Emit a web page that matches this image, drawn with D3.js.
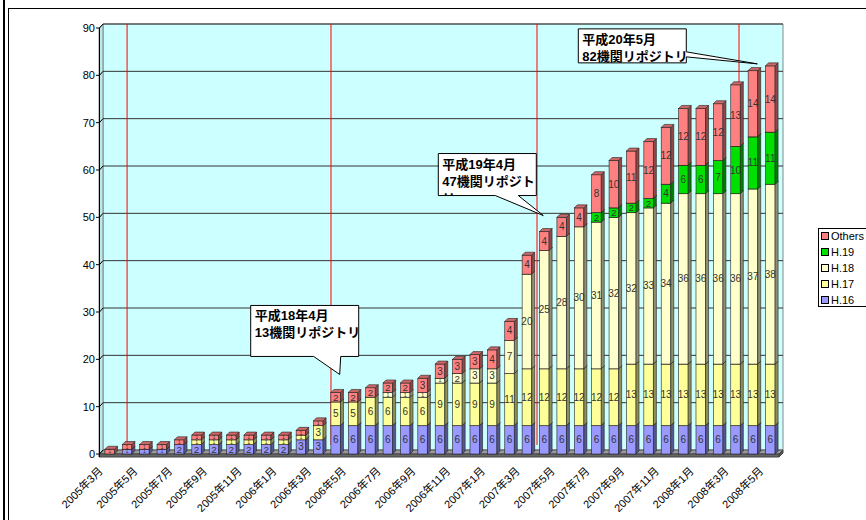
<!DOCTYPE html>
<html>
<head>
<meta charset="utf-8">
<script src="https://cdn.jsdelivr.net/npm/d3@7"></script>
<style>
  body { margin: 0; background: #fff; }
  text { font-family: "Liberation Sans", "Noto Sans CJK JP", sans-serif; }
</style>
</head>
<body>
<div id="chart"></div>
<script>
// 月ラベル
const months = [
  "2005年3月", "2005年4月", "2005年5月", "2005年6月", "2005年7月", "2005年8月",
  "2005年9月", "2005年10月", "2005年11月", "2005年12月",
  "2006年1月", "2006年2月", "2006年3月", "2006年4月", "2006年5月", "2006年6月",
  "2006年7月", "2006年8月", "2006年9月", "2006年10月", "2006年11月", "2006年12月",
  "2007年1月", "2007年2月", "2007年3月", "2007年4月", "2007年5月", "2007年6月",
  "2007年7月", "2007年8月", "2007年9月", "2007年10月", "2007年11月", "2007年12月",
  "2008年1月", "2008年2月", "2008年3月", "2008年4月", "2008年5月"
];

// 系列の値
const h16 = [0,1,1,1,2,2,2,2,2,2, 2,3,3,6,6,6,6,6,6,6,6,6, 6,6,6,6,6,6,6,6,6,6,6,6, 6,6,6,6,6];
const h17 = [0,0,0,0,0,1,1,1,1,1, 1,1,3,5,5,6,6,6,6,9,9,9, 9,11,12,12,12,12,12,12,13,13,13,13, 13,13,13,13,13];
const h18 = [0,0,0,0,0,0,0,0,0,0, 0,0,0,0,0,0,1,1,1,1,2,3, 3,7,20,25,28,30,31,32,32,33,34,36, 36,36,36,37,38];
const h19 = [0,0,0,0,0,0,0,0,0,0, 0,0,0,0,0,0,0,0,0,0,0,0, 0,0,0,0,0,0,2,2,2,2,4,6, 6,7,10,11,11];
const others = [1,1,1,1,1,1,1,1,1,1, 1,1,1,2,2,2,2,2,3,3,3,3, 4,4,4,4,4,4,8,10,11,12,12,12, 12,12,13,14,14];

const seriesNames = ["H.16", "H.17", "H.18", "H.19", "Others"];
const seriesColors = ["#9999ff", "#ffff99", "#ffffcc", "#00e000", "#ff8080"];
const yTicks = [0, 10, 20, 30, 40, 50, 60, 70, 80, 90];

// 年度区切りの赤線（月インデックス）
const fyMarks = [1.0, 12.73, 24.58, 36.2];

// 吹き出し
const callouts = [
  { month: "2006年4月", lines: ["平成18年4月", "13機関リポジトリ"] },
  { month: "2007年4月", lines: ["平成19年4月", "47機関リポジト", "リ"] },
  { month: "2008年5月", lines: ["平成20年5月", "82機関リポジトリ"] }
];

const table = months.map((m, i) => ({
  month: m, "H.16": h16[i], "H.17": h17[i], "H.18": h18[i], "H.19": h19[i], "Others": others[i]
}));
const stacked = d3.stack().keys(seriesNames)(table);
const colorOf = d3.scaleOrdinal().domain(seriesNames).range(seriesColors);

const width = 866, height = 520;
const D = 4;   // 壁の奥行き
const d = 3;   // 棒の奥行き
const wallL = 103, wallR = 783;

const svg = d3.select("#chart").append("svg")
  .attr("width", width).attr("height", height);

// 外枠
svg.append("rect").attr("x", 8.5).attr("y", 8.5).attr("width", 870).attr("height", 530)
  .attr("fill", "#fff").attr("stroke", "#000");
svg.append("line").attr("x1", 4).attr("x2", 4).attr("y1", 0).attr("y2", height)
  .attr("stroke", "#000").attr("stroke-width", 2);

const x = d3.scaleBand().domain(months).range([101, 779]).paddingInner(0.45).paddingOuter(0.225);
const y = d3.scaleLinear().domain([0, 90]).range([454, 28]);
const xc = m => x(m) + x.bandwidth() / 2;
const xi = d3.scaleLinear().domain([0, months.length - 1]).range([xc(months[0]), xc(months[months.length - 1])]);

// 背面の壁
svg.append("polygon")
  .attr("points", [[wallL, y(90) - D], [wallR, y(90) - D], [wallR, y(0) - D], [wallL, y(0) - D]].join(" "))
  .attr("fill", "#ccffff").attr("stroke", "#888");
svg.append("polygon")
  .attr("points", [[99, y(90)], [wallL, y(90) - D], [wallL, y(0) - D], [99, y(0)]].join(" "))
  .attr("fill", "#b8e8e8").attr("stroke", "#888");

// 目盛り線
yTicks.slice(1).forEach(v => {
  svg.append("line").attr("x1", wallL).attr("x2", wallR)
    .attr("y1", y(v) - D).attr("y2", y(v) - D)
    .attr("stroke", "#333").attr("stroke-width", 1);
});

// 赤線
fyMarks.forEach(v => {
  svg.append("line").attr("x1", xi(v)).attr("x2", xi(v))
    .attr("y1", y(90) - D).attr("y2", y(0) - 9)
    .attr("stroke", "#ff0000").attr("stroke-width", 1);
});

// 床
svg.append("polygon")
  .attr("points", [[99, y(0)], [wallL, y(0) - D], [wallR, y(0) - D], [wallR - 4, y(0)]].join(" "))
  .attr("fill", "#999").attr("stroke", "#555");
svg.append("polygon")
  .attr("points", [[99, y(0)], [wallR - 4, y(0)], [wallR - 4, y(0) + 3], [99, y(0) + 3]].join(" "))
  .attr("fill", "#666").attr("stroke", "#444");
svg.append("polygon")
  .attr("points", [[wallR - 4, y(0)], [wallR, y(0) - D], [wallR, y(0) - D + 3], [wallR - 4, y(0) + 3]].join(" "))
  .attr("fill", "#555").attr("stroke", "#444");

// Y軸
svg.append("line").attr("x1", 99.5).attr("x2", 99.5).attr("y1", y(90)).attr("y2", y(0) + 3)
  .attr("stroke", "#000");
yTicks.forEach(v => {
  svg.append("path")
    .attr("d", `M96,${y(v)}H99.5L${wallL},${y(v) - D}`)
    .attr("fill", "none").attr("stroke", "#000");
  svg.append("text").attr("x", 95).attr("y", y(v)).attr("dy", "0.35em")
    .attr("text-anchor", "end").attr("font-size", "11px").text(v);
});

// 棒（3D）
const bw = x.bandwidth();
months.forEach((m, i) => {
  const g = svg.append("g");
  stacked.forEach(s => {
    const seg = s[i];
    const v = seg[1] - seg[0];
    if (v <= 0) return;
    const x0 = x(m), y0 = y(seg[0]), y1 = y(seg[1]);
    const c = colorOf(s.key);
    g.append("rect").attr("x", x0).attr("y", y1).attr("width", bw).attr("height", y0 - y1)
      .attr("fill", c).attr("stroke", "#222").attr("stroke-width", 0.6);
    g.append("polygon")
      .attr("points", [[x0 + bw, y1], [x0 + bw + d, y1 - d], [x0 + bw + d, y0 - d], [x0 + bw, y0]].join(" "))
      .attr("fill", d3.color(c).darker(1.6)).attr("stroke", "#222").attr("stroke-width", 0.6);
    g.append("polygon")
      .attr("points", [[x0, y1], [x0 + d, y1 - d], [x0 + bw + d, y1 - d], [x0 + bw, y1]].join(" "))
      .attr("fill", d3.color(c).darker(0.6)).attr("stroke", "#222").attr("stroke-width", 0.6);
  });
  stacked.forEach(s => {
    const seg = s[i];
    const v = seg[1] - seg[0];
    if (v <= 0) return;
    // 小さい区間はラベルを縮める
    const segH = y(seg[0]) - y(seg[1]);
    const fs = Math.min(10, Math.max(4, segH + 0.5));
    g.append("text").attr("x", xc(m)).attr("y", y((seg[0] + seg[1]) / 2)).attr("dy", "0.35em")
      .attr("text-anchor", "middle").attr("font-size", fs + "px").attr("fill", "#333")
      .text(v);
  });
});

// X軸ラベル（2か月ごと）
months.forEach((m, i) => {
  if (i % 2 !== 0) return;
  svg.append("text")
    .attr("transform", `translate(${xc(m) - 9},${469}) rotate(-45)`)
    .attr("dy", "0.35em").attr("text-anchor", "end").attr("font-size", "11px")
    .text(m);
});

// 吹き出し
const stackTop = i => h16[i] + h17[i] + h18[i] + h19[i] + others[i];
const calloutGeo = [
  { dx: 4, dy: -18, box: [-89, -69, 108, 51], wedge: { side: "bottom", a: -26, b: 1 } },
  { dx: -1, dy: -16, box: [-105, -62, 98, 42], wedge: { side: "bottom", a: -48, b: -25 } },
  { dx: -13, dy: -2, box: [-179, -35, 108, 34], wedge: { side: "right", a: -12, b: -7 } }
];
callouts.forEach((c, k) => {
  const i = months.indexOf(c.month);
  const geo = calloutGeo[k];
  const tx = xc(c.month) + geo.dx, ty = y(stackTop(i)) + geo.dy;
  const bx = tx + geo.box[0], by = ty + geo.box[1], bW = geo.box[2], bH = geo.box[3];
  let p;
  if (geo.wedge.side === "bottom") {
    p = `M${bx},${by}H${bx + bW}V${by + bH}H${tx + geo.wedge.b}L${tx},${ty}L${tx + geo.wedge.a},${by + bH}H${bx}Z`;
  } else {
    p = `M${bx},${by}H${bx + bW}V${ty + geo.wedge.a}L${tx},${ty}L${bx + bW},${ty + geo.wedge.b}V${by + bH}H${bx}Z`;
  }
  svg.append("path").attr("d", p).attr("fill", "#fff").attr("stroke", "#000").attr("stroke-width", 1);
  const clipId = "clip" + k;
  svg.append("clipPath").attr("id", clipId).append("rect")
    .attr("x", bx).attr("y", by).attr("width", bW).attr("height", bH);
  const t = svg.append("text").attr("clip-path", `url(#${clipId})`)
    .attr("font-size", "13px").attr("font-weight", "bold");
  c.lines.forEach((ln, j) => {
    t.append("tspan").attr("x", bx + 4).attr("y", by + 15 + j * 17).text(ln);
  });
});

// 凡例
const lg = svg.append("g").attr("transform", "translate(818,228)");
lg.append("rect").attr("x", 0.5).attr("y", 0.5).attr("width", 60).attr("height", 78)
  .attr("fill", "#fff").attr("stroke", "#000");
seriesNames.slice().reverse().forEach((s, j) => {
  const yy = 8 + j * 16;
  lg.append("rect").attr("x", 3.5).attr("y", yy - 3.5).attr("width", 7).attr("height", 7)
    .attr("fill", colorOf(s)).attr("stroke", "#000");
  lg.append("text").attr("x", 13).attr("y", yy).attr("dy", "0.35em")
    .attr("font-size", "11px").text(s);
});
</script>
</body>
</html>
